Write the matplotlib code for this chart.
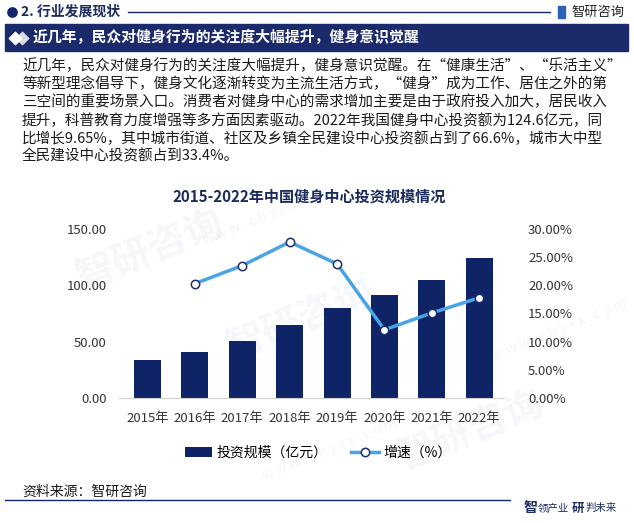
import matplotlib
matplotlib.use("Agg")
import matplotlib.pyplot as plt
from matplotlib.patches import Rectangle
import numpy as np

plt.rcParams['font.family'] = ['Noto Sans CJK SC', 'DejaVu Sans']

# chart data
years = ['2015年', '2016年', '2017年', '2018年', '2019年', '2020年', '2021年', '2022年']
invest = [33.4, 40.5, 50.2, 64.4, 80.3, 91.0, 104.3, 124.6]      # 亿元
growth = [np.nan, 20.3, 23.5, 27.7, 23.8, 12.1, 15.1, 17.8]     # %

left_ticks = [0, 50, 100, 150]
right_ticks = [0, 5, 10, 15, 20, 25, 30]

para_lines = [
    '近几年，民众对健身行为的关注度大幅提升，健身意识觉醒。在“健康生活”、“乐活主义”',
    '等新型理念倡导下，健身文化逐渐转变为主流生活方式，“健身”成为工作、居住之外的第',
    '三空间的重要场景入口。消费者对健身中心的需求增加主要是由于政府投入加大，居民收入',
    '提升，科普教育力度增强等多方面因素驱动。2022年我国健身中心投资额为124.6亿元，同',
    '比增长9.65%，其中城市街道、社区及乡镇全民建设中心投资额占到了66.6%，城市大中型',
    '全民建设中心投资额占到33.4%。',
]

navy = '#13266b'
bar_color = '#0f2467'
line_color = '#4aa3e4'

W, H = 634, 523
fig = plt.figure(figsize=(W / 100, H / 100), dpi=100)

# background layer in pixel coordinates for the page decorations
bg = fig.add_axes([0, 0, 1, 1])
bg.set_xlim(0, W)
bg.set_ylim(H, 0)
bg.axis('off')

# faint watermarks (kept inside the page)
for wx, wy in [(300, 320), (150, 250), (470, 430)]:
    bg.text(wx, wy, '智研咨询', fontsize=28, color='#3a5a9a', alpha=0.05, rotation=22,
            ha='center', va='center', fontweight='bold')
for wx, wy in [(270, 215), (330, 450), (560, 330)]:
    bg.text(wx, wy, 'w w w . c h y x x . c o m', fontsize=10, color='#3a5a9a', alpha=0.06,
            rotation=22, ha='center', va='center')

# header
bg.scatter([12], [11.5], s=45, color=navy, zorder=3)
bg.text(21, 11.5, '2. 行业发展现状', fontsize=10, fontweight='bold', color='#1c2b5e',
        va='center', ha='left')
bg.plot([128, 550], [12, 12], color=navy, lw=1)
bg.add_patch(Rectangle((558, 6), 7, 12, color='#2a62b8'))
bg.text(571, 12, '智研咨询', fontsize=9.5, color='#222222', va='center', ha='left')

# banner
bg.add_patch(Rectangle((5, 24), 623, 27, color='#1b2a6b'))
bg.scatter([15], [37.5], marker='D', s=40, color='white', zorder=3)
bg.scatter([22], [37.5], marker='D', s=40, color='#d8dbe6', zorder=2)
bg.text(33, 37.5, '近几年，民众对健身行为的关注度大幅提升，健身意识觉醒', fontsize=10.7,
        fontweight='bold', color='white', va='center', ha='left')

# paragraph
for i, line in enumerate(para_lines):
    bg.text(22, 66 + i * 18.1, line, fontsize=10.5, color='#1a1a1a', va='center', ha='left')

# chart title
bg.text(309, 197, '2015-2022年中国健身中心投资规模情况', fontsize=10.9, fontweight='bold',
        color='#1c2b5e', va='center', ha='center')

# footer
bg.text(22, 492, '资料来源：智研咨询', fontsize=10, color='#1a1a1a', va='center', ha='left')
bg.plot([5, 510], [500, 500], color=navy, lw=1)
bg.text(524, 508, '智', fontsize=10, fontweight='bold', color='#1c2b5e', va='center', ha='left')
bg.text(538, 508, '领产业', fontsize=7.5, color='#1c2b5e', va='center', ha='left')
bg.text(572, 508, '研', fontsize=9, fontweight='bold', color='#1c2b5e', va='center', ha='left')
bg.text(585, 508, '判未来', fontsize=7.5, color='#1c2b5e', va='center', ha='left')

# main chart
ax = fig.add_axes([119 / W, 1 - 398 / H, (503 - 119) / W, (398 - 229) / H])
x = np.arange(len(years))
bars = ax.bar(x, invest, width=0.57, color=bar_color, label='投资规模（亿元）', zorder=2)
ax.set_xlim(-0.6, 7.5)
ax.set_ylim(0, 150)
ax.set_yticks(left_ticks)
ax.set_yticklabels(['{:.2f}'.format(v) for v in left_ticks])
ax.set_xticks(x)
ax.set_xticklabels(years)
ax.tick_params(axis='both', length=0, labelsize=9.5, colors='#333333')
ax.tick_params(axis='y', pad=9)
ax.tick_params(axis='x', pad=10)
for s in ['top', 'right', 'left']:
    ax.spines[s].set_visible(False)
ax.spines['bottom'].set_color('#d0d0d0')
ax.patch.set_alpha(0)

ax2 = ax.twinx()
ln, = ax2.plot(x, growth, color=line_color, lw=2.5, marker='o', markersize=6,
               markerfacecolor='white', markeredgecolor='#1f2d6b', markeredgewidth=1.1,
               label='增速（%）', zorder=3)
ax2.set_ylim(0, 30)
ax2.set_yticks(right_ticks)
ax2.set_yticklabels(['{:.2f}%'.format(v) for v in right_ticks])
ax2.tick_params(axis='y', length=0, labelsize=9.5, colors='#333333', pad=18)
for s in ['top', 'right', 'left', 'bottom']:
    ax2.spines[s].set_visible(False)

fig.legend(handles=[bars, ln], labels=['投资规模（亿元）', '增速（%）'],
           loc='center', bbox_to_anchor=(318 / W, 1 - 453 / H), ncol=2, frameon=False,
           fontsize=10, handlelength=2.0, columnspacing=1.7, handletextpad=0.3)

fig.savefig('out.png', dpi=100)
